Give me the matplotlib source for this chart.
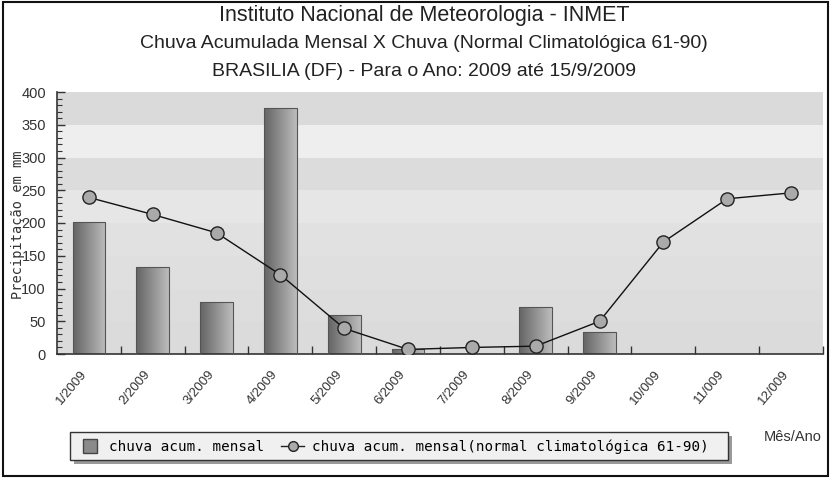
import numpy as np
import matplotlib
matplotlib.use('Agg')
import matplotlib.pyplot as plt
from matplotlib.patches import Rectangle
from matplotlib.lines import Line2D
from matplotlib.colors import LinearSegmentedColormap

meses = ['1/2009', '2/2009', '3/2009', '4/2009', '5/2009', '6/2009',
         '7/2009', '8/2009', '9/2009', '10/009', '11/009', '12/009']
chuva_mensal = [201, 133, 79, 375, 60, 8, 0, 71, 33, 0, 0, 0]
chuva_normal = [239, 213, 185, 121, 39, 7, 10, 12, 50, 171, 237, 246]

# faixas de fundo (a cada 50 mm)
faixas = [0, 50, 100, 150, 200, 250, 300, 350, 400]
cores_faixas = ['#dbdbdb', '#dddddd', '#dfdfdf', '#e1e1e1', '#e6e6e6', '#dcdcdc', '#eeeeee', '#dadada']

W, H = 831, 479
fig = plt.figure(figsize=(W / 100, H / 100), dpi=100)
fig.patch.set_facecolor('white')
ax = fig.add_axes([57 / W, 1 - 354 / H, (823 - 57) / W, (354 - 92) / H])
ax.set_facecolor('#dedede')

x = np.arange(len(meses))

for i in range(len(faixas) - 1):
    ax.axhspan(faixas[i], faixas[i + 1], color=cores_faixas[i], zorder=0, lw=0)

# barras com gradiente horizontal
cmap_barra = LinearSegmentedColormap.from_list('barra', ['#646464', '#bcbcbc'])
bars = ax.bar(x, chuva_mensal, width=0.51, color='none', edgecolor='#555555', lw=0.8, zorder=3)
grad = np.linspace(0, 1, 64).reshape(1, -1)
for b, v in zip(bars, chuva_mensal):
    if v <= 0:
        continue
    x0 = b.get_x()
    w = b.get_width()
    im = ax.imshow(grad, cmap=cmap_barra, aspect='auto',
                   extent=[x0, x0 + w, 0, v], zorder=2, interpolation='bilinear')
    im.set_clip_path(b)
ax.set_xlim(-0.5, len(meses) - 0.5)
ax.set_ylim(0, 400)

ax.plot(x, chuva_normal, color='#111111', lw=1.0, marker='o', markersize=9.5,
        markerfacecolor='#aaaaaa', markeredgecolor='#222222', markeredgewidth=1.0, zorder=4)

for s in ['top', 'right']:
    ax.spines[s].set_visible(False)
ax.spines['left'].set_color('#333333')
ax.spines['bottom'].set_color('#333333')
ax.spines['left'].set_linewidth(1.2)
ax.spines['bottom'].set_linewidth(1.2)

ax.set_yticks(np.arange(0, 401, 50))
ax.set_yticks(np.arange(0, 401, 10), minor=True)
ax.set_yticklabels([str(v) for v in range(0, 401, 50)], family='Liberation Sans')
ax.tick_params(axis='y', which='major', direction='in', length=6, width=1, color='#333333',
               labelsize=10.5, labelcolor='#333333', pad=8)
ax.tick_params(axis='y', which='minor', direction='in', length=3.5, width=0.8, color='#333333')

# ticks nas divisas, rótulos no centro
ax.set_xticks(np.arange(0.5, len(meses) - 0.4, 1.0))
ax.set_xticks(x, minor=True)
ax.set_xticklabels([])
ax.set_xticklabels(meses, minor=True, rotation=50, ha='right', fontsize=9.5, color='#333333',
                   family='Liberation Sans')
ax.tick_params(axis='x', which='major', direction='in', length=6, width=1, color='#333333')
ax.tick_params(axis='x', which='minor', length=0, pad=10)

fig.text(18 / W, 1 - 225 / H, 'Precipitação em mm', rotation=90, family='DejaVu Sans Mono',
         fontsize=9.8, color='#333333', ha='center', va='center')

fig.text(0.51, 1 - 15.5 / H, 'Instituto Nacional de Meteorologia - INMET', family='Liberation Sans',
         fontsize=15.5, color='#222222', ha='center', va='center')
fig.text(0.51, 1 - 44 / H, 'Chuva Acumulada Mensal X Chuva (Normal Climatológica 61-90)',
         family='Liberation Sans', fontsize=14, color='#222222', ha='center', va='center')
fig.text(0.51, 1 - 72 / H, 'BRASILIA (DF) - Para o Ano: 2009 até 15/9/2009',
         family='Liberation Sans', fontsize=14, color='#222222', ha='center', va='center')

fig.text(793 / W, 1 - 437 / H, 'Mês/Ano', family='Liberation Sans', fontsize=10.5,
         color='#333333', ha='center', va='center')

# caixa da legenda com sombra
fig.patches.append(Rectangle((74 / W, 1 - 464 / H), 658 / W, 28 / H, transform=fig.transFigure,
                             facecolor='#9a9a9a', edgecolor='none', zorder=5))
fig.patches.append(Rectangle((70 / W, 1 - 460 / H), 658 / W, 28 / H, transform=fig.transFigure,
                             facecolor='#f0f0f0', edgecolor='#333333', lw=1.0, zorder=6))

handles = [Line2D([], [], ls='none', marker='s', markersize=9.5, markerfacecolor='#8a8a8a',
                  markeredgecolor='#444444'),
           Line2D([], [], color='#222222', lw=1, marker='o', markersize=7,
                  markerfacecolor='#aaaaaa', markeredgecolor='#222222')]
leg = fig.legend(handles, ['chuva acum. mensal', 'chuva acum. mensal(normal climatológica 61-90)'],
                 loc='center left', bbox_to_anchor=(79 / W, 1 - 447 / H), ncol=2,
                 prop={'family': 'DejaVu Sans Mono', 'size': 10.3}, frameon=False,
                 handlelength=1.6, handletextpad=0.5, columnspacing=1.2, borderpad=0,
                 borderaxespad=0)
leg.set_zorder(7)

# moldura externa
fig.patches.append(Rectangle((3 / W, 3 / H), 825 / W, 474 / H, transform=fig.transFigure,
                             fill=False, edgecolor='#111111', lw=1.5))

fig.savefig('out.png', dpi=100)
